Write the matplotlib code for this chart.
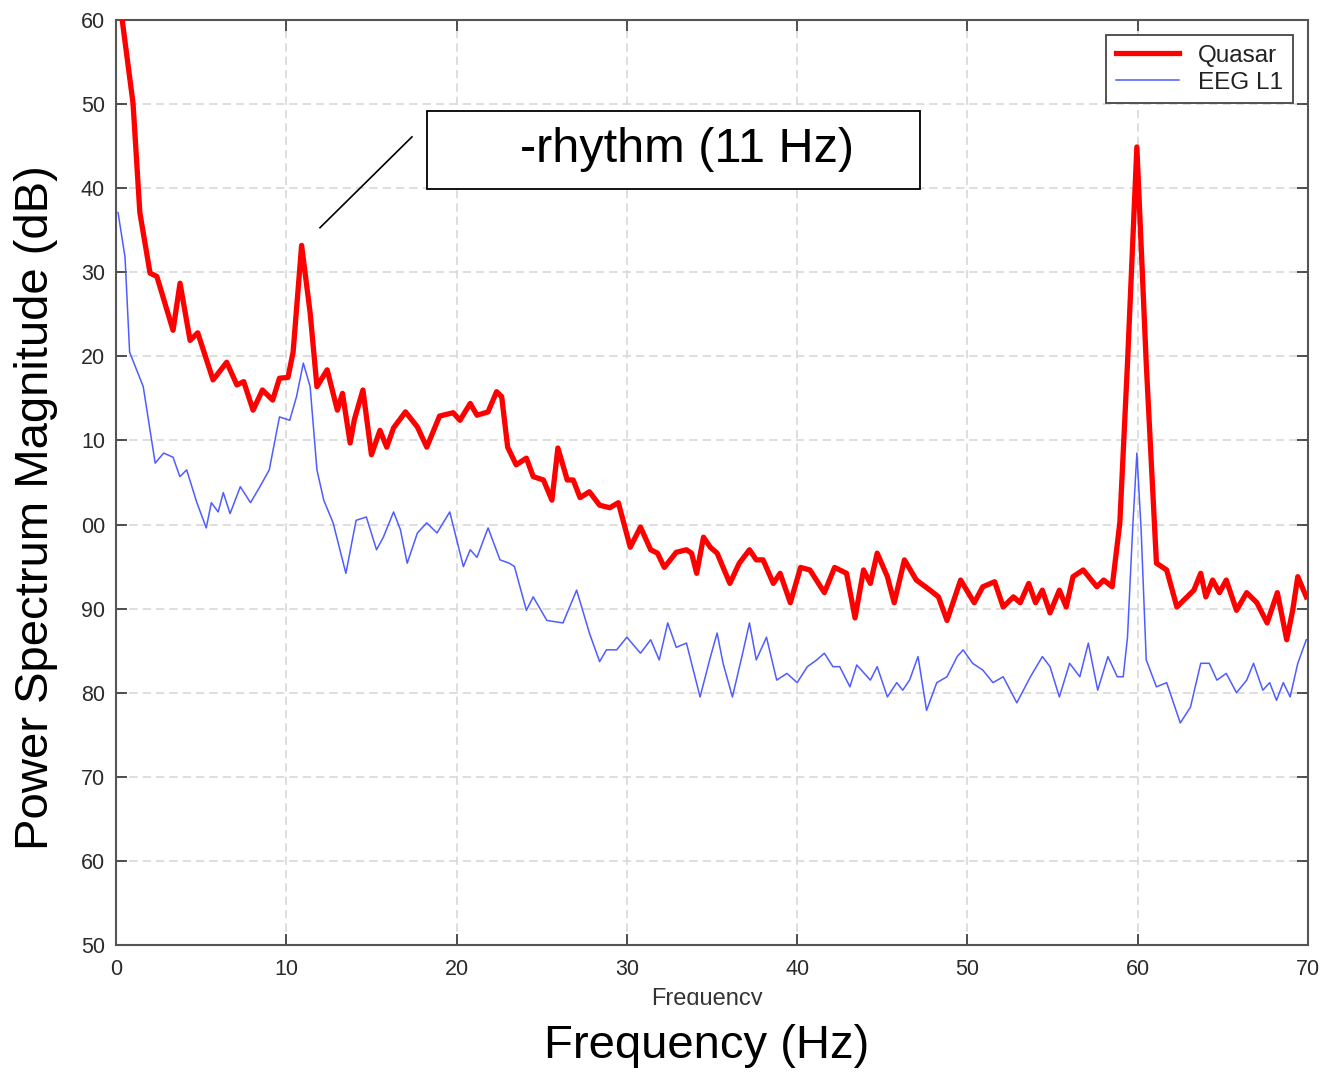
import matplotlib
matplotlib.use("Agg")
import matplotlib.pyplot as plt
from matplotlib.patches import Rectangle
from matplotlib.transforms import Bbox

plt.rcParams['font.family'] = ['Liberation Sans', 'DejaVu Sans']

# Quasar spectrum (thick red)
quasar_freq = [0.3, 1.0, 1.4, 2.0, 2.4, 3.35, 3.76, 4.35, 4.8, 5.7, 6.5, 7.1, 7.5, 8.05, 8.6,
               9.2, 9.6, 10.1, 10.4, 10.9, 11.4, 11.8, 12.4, 13.0, 13.3, 13.75, 14.0, 14.5,
               15.0, 15.5, 15.9, 16.3, 17.0, 17.7, 18.25, 19.0, 19.8, 20.2, 20.8, 21.2, 21.85,
               22.35, 22.65, 23.0, 23.5, 24.1, 24.5, 25.1, 25.6, 25.95, 26.5, 26.85, 27.25,
               27.8, 28.4, 29.0, 29.5, 30.2, 30.8, 31.4, 31.8, 32.2, 32.9, 33.5, 33.8, 34.1,
               34.5, 34.9, 35.3, 36.05, 36.6, 37.2, 37.6, 38.0, 38.6, 39.0, 39.6, 40.2, 40.75,
               41.6, 42.2, 42.9, 43.4, 43.9, 44.3, 44.7, 45.3, 45.7, 46.3, 47.0, 47.8, 48.3,
               48.8, 49.6, 50.4, 50.9, 51.6, 52.1, 52.7, 53.1, 53.6, 54.0, 54.4, 54.85, 55.4,
               55.8, 56.2, 56.8, 57.6, 58.0, 58.5, 58.95, 59.4, 59.95, 60.5, 61.1, 61.7, 62.3,
               62.9, 63.3, 63.7, 64.0, 64.4, 64.8, 65.2, 65.8, 66.4, 67.0, 67.6, 68.2, 68.75,
               69.1, 69.4, 69.9]
quasar_db = [161.0, 150.1, 137.1, 129.9, 129.5, 123.1, 128.7, 121.9, 122.8, 117.2, 119.3, 116.6,
             117.0, 113.6, 116.0, 114.8, 117.4, 117.5, 120.5, 133.2, 125.2, 116.4, 118.4, 113.6,
             115.6, 109.7, 112.5, 116.0, 108.3, 111.2, 109.2, 111.5, 113.4, 111.6, 109.2, 112.9,
             113.3, 112.4, 114.4, 113.0, 113.4, 115.8, 115.2, 109.2, 107.1, 107.9, 105.7, 105.3,
             102.9, 109.1, 105.3, 105.3, 103.2, 103.9, 102.3, 102.0, 102.6, 97.3, 99.7, 97.0,
             96.6, 94.9, 96.7, 97.0, 96.6, 94.2, 98.5, 97.3, 96.6, 93.0, 95.4, 97.0, 95.8, 95.8,
             93.0, 94.2, 90.7, 94.9, 94.6, 91.9, 94.9, 94.2, 88.9, 94.6, 93.0, 96.6, 93.8, 90.7,
             95.8, 93.4, 92.2, 91.4, 88.6, 93.4, 90.7, 92.6, 93.2, 90.2, 91.4, 90.7, 93.0, 90.7,
             92.2, 89.5, 92.2, 90.2, 93.8, 94.6, 92.6, 93.4, 92.6, 100.2, 119.2, 144.9, 119.2,
             95.4, 94.6, 90.2, 91.4, 92.2, 94.2, 91.4, 93.4, 91.9, 93.4, 89.8, 91.9, 90.7, 88.3,
             91.9, 86.3, 89.8, 93.8, 91.4]

# EEG channel L1 spectrum (thin blue)
eeg_freq = [0.12, 0.53, 0.65, 0.8, 1.6, 2.3, 2.8, 3.35, 3.75, 4.15, 4.75, 5.3, 5.6, 6.0, 6.3,
            6.7, 7.3, 7.9, 8.45, 9.0, 9.6, 10.2, 10.6, 11.0, 11.4, 11.8, 12.2, 12.75, 13.5,
            14.1, 14.7, 15.3, 15.7, 16.3, 16.7, 17.1, 17.7, 18.25, 18.85, 19.6, 20.4, 20.8,
            21.2, 21.85, 22.55, 23.1, 23.4, 24.1, 24.5, 25.3, 26.25, 27.05, 27.4, 27.8, 28.4,
            28.8, 29.4, 30.0, 30.8, 31.4, 31.9, 32.4, 32.9, 33.5, 34.3, 34.9, 35.3, 35.65,
            36.2, 36.8, 37.2, 37.6, 38.2, 38.8, 39.4, 40.0, 40.6, 41.15, 41.6, 42.1, 42.5,
            43.1, 43.5, 44.3, 44.7, 45.3, 45.85, 46.2, 46.6, 47.1, 47.6, 48.2, 48.8, 49.4,
            49.75, 50.3, 50.9, 51.5, 52.1, 52.9, 53.7, 54.4, 54.85, 55.4, 56.0, 56.6, 57.1,
            57.65, 58.25, 58.8, 59.15, 59.4, 59.7, 59.95, 60.2, 60.5, 61.1, 61.7, 62.5, 63.1,
            63.7, 64.2, 64.65, 65.2, 65.8, 66.4, 66.8, 67.35, 67.75, 68.15, 68.55, 68.95,
            69.4, 69.9]
eeg_db = [137.1, 131.8, 126.7, 120.5, 116.4, 107.3, 108.5, 108.0, 105.7, 106.5, 102.6, 99.6,
          102.6, 101.5, 103.8, 101.3, 104.5, 102.6, 104.5, 106.5, 112.8, 112.4, 115.2, 119.2,
          116.4, 106.5, 102.9, 100.2, 94.2, 100.5, 100.9, 97.0, 98.5, 101.5, 99.4, 95.4, 99.0,
          100.2, 99.0, 101.5, 95.0, 97.0, 96.1, 99.6, 95.8, 95.4, 95.0, 89.8, 91.4, 88.6, 88.3,
          92.2, 89.8, 87.1, 83.7, 85.1, 85.1, 86.6, 84.7, 86.3, 83.9, 88.3, 85.4, 85.9, 79.5,
          84.2, 87.1, 83.5, 79.5, 84.7, 88.3, 83.9, 86.6, 81.5, 82.3, 81.2, 83.1, 83.9, 84.7,
          83.1, 83.1, 80.7, 83.3, 81.5, 83.1, 79.5, 81.2, 80.3, 81.5, 84.3, 77.9, 81.2, 81.9,
          84.3, 85.1, 83.5, 82.7, 81.2, 81.9, 78.8, 81.9, 84.3, 83.1, 79.5, 83.5, 81.9, 85.9,
          80.3, 84.3, 81.9, 81.9, 86.6, 99.4, 108.5, 99.4, 83.9, 80.7, 81.2, 76.4, 78.3, 83.5,
          83.5, 81.5, 82.3, 80.0, 81.5, 83.5, 80.3, 81.2, 79.1, 81.2, 79.5, 83.5, 86.3]

x_ticks = [0, 10, 20, 30, 40, 50, 60, 70]
x_tick_labels = ['0', '10', '20', '30', '40', '50', '60', '70']
y_ticks = [50, 60, 70, 80, 90, 100, 110, 120, 130, 140, 150, 160]
y_tick_labels = ['50', '60', '70', '80', '90', '00', '10', '20', '30', '40', '50', '60']

W, H = 1325, 1073
fig = plt.figure(figsize=(W / 100, H / 100), dpi=100)
ax = fig.add_axes([116 / W, 1 - 945 / H, 1192 / W, 925 / H])

ax.plot(quasar_freq, quasar_db, color='#ff0000', lw=3.8, label='Quasar', zorder=3)
ax.plot(eeg_freq, eeg_db, color='#4f5cff', lw=1.1, label='EEG L1', zorder=2)

ax.set_xlim(0, 70)
ax.set_ylim(50, 160)
ax.set_xticks(x_ticks)
ax.set_xticklabels(x_tick_labels)
ax.set_yticks(y_ticks)
ax.set_yticklabels(y_tick_labels)
ax.tick_params(direction='in', length=8, width=1.2, color='#333333', labelsize=15.5,
               labelcolor='#2a2a2a', top=True, right=True)
ax.tick_params(axis='x', pad=10)
ax.tick_params(axis='y', pad=8)
for s in ax.spines.values():
    s.set_color('#555555')
    s.set_linewidth(1.5)
ax.grid(True, color='#d8d8d8', lw=1.2, linestyle=(0, (5, 3)))
ax.set_axisbelow(True)

leg = ax.legend(loc='upper right', bbox_to_anchor=(0.9874, 0.9838), borderaxespad=0,
                fontsize=17.5, handlelength=2.6, handletextpad=0.8, labelspacing=0.2,
                fancybox=False, framealpha=1, borderpad=0.4)
leg.get_frame().set_edgecolor('#444444')
leg.get_frame().set_linewidth(1.3)
for t in leg.get_texts():
    t.set_color('#222222')

# label box and pointer for the alpha peak
ax.plot([11.98, 17.38], [135.3, 146.1], color='black', lw=1.2, zorder=4)
ax.add_patch(Rectangle((0.2609, 0.8173), 0.4136, 0.0843, transform=ax.transAxes,
                       facecolor='white', edgecolor='black', lw=1.3, zorder=4))
ax.text(0.479, 0.8595, '-rhythm (11 Hz)', transform=ax.transAxes, fontsize=35,
        ha='center', va='center', zorder=5)

# small original axis label, cut off at its bottom
small = fig.text(707 / W, 1 - 988 / H, 'Frequency', fontsize=17, color='#333333',
                 ha='center', va='top')
small.set_clip_box(Bbox([[0, H - 1005], [W, H]]))
small.set_clip_on(True)

fig.text(707 / W, 1 - 1046 / H, 'Frequency (Hz)', fontsize=34, ha='center', va='center')
fig.text(36 / W, 1 - 508 / H, 'Power Spectrum Magnitude (dB)', fontsize=34,
         rotation=90, ha='center', va='center')

fig.savefig('out.png', dpi=100)
